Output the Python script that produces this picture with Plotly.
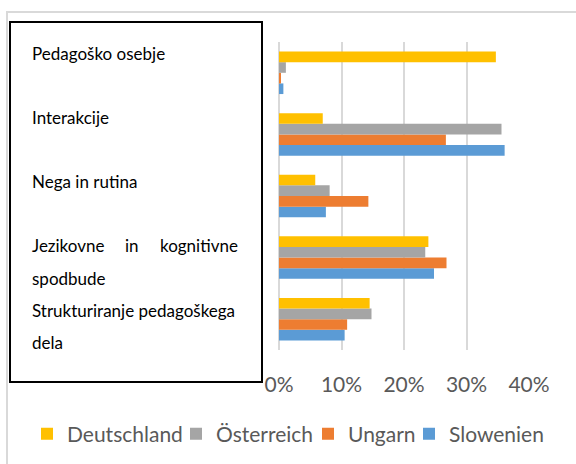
import plotly.graph_objects as go

categories = ["Strukturiranje pedagoškega dela", "Jezikovne in kognitivne spodbude",
              "Nega in rutina", "Interakcije", "Pedagoško osebje"]
series_names = ["Deutschland", "Österreich", "Ungarn", "Slowenien"]
deutschland = [0.145, 0.239, 0.058, 0.070, 0.347]
oesterreich = [0.148, 0.234, 0.081, 0.356, 0.011]
ungarn = [0.109, 0.268, 0.143, 0.267, 0.003]
slowenien = [0.105, 0.248, 0.075, 0.361, 0.007]
tick_vals = [0, 0.1, 0.2, 0.3, 0.4]
tick_text = ["0%", "10%", "20%", "30%", "40%"]

colors = {"Deutschland": "#FFC000", "Österreich": "#A5A5A5",
          "Ungarn": "#ED7D31", "Slowenien": "#5B9BD5"}
values = {"Deutschland": deutschland, "Österreich": oesterreich,
          "Ungarn": ungarn, "Slowenien": slowenien}
# pixel x where each legend entry's text starts
legend_text_x = {"Deutschland": 67, "Österreich": 216, "Ungarn": 348, "Slowenien": 449}
legend_ids = {"Deutschland": "legend", "Österreich": "legend2",
              "Ungarn": "legend3", "Slowenien": "legend4"}

W, H = 576, 464
L, R, T, B = 279, 529, 42, 350  # plot area in pixels


def px_x(x):
    return x / W


def px_y(y):
    return 1 - y / H


font_main = "Lato, 'Noto Sans', sans-serif"

fig = go.Figure()
for name in reversed(series_names):
    fig.add_trace(go.Bar(y=categories, x=values[name], name=name, orientation="h",
                         legend=legend_ids[name],
                         marker=dict(color=colors[name], line=dict(width=0))))

annotations = []
label_lines = [
    ("Pedagoško osebje", 30, 53, "left"),
    ("Interakcije", 30, 117, "left"),
    ("Nega in rutina", 30, 182, "left"),
    ("Jezikovne", 30, 245, "left"),
    ("in", 132, 245, "center"),
    ("kognitivne", 240, 245, "right"),
    ("spodbude", 30, 278, "left"),
    ("Strukturiranje pedagoškega", 30, 310, "left"),
    ("dela", 30, 342, "left"),
]
for txt, x, y, anchor in label_lines:
    annotations.append(dict(text=txt, x=px_x(x), y=px_y(y), xref="paper", yref="paper",
                            xanchor=anchor, yanchor="middle", showarrow=False,
                            font=dict(family=font_main, size=17, color="#000000")))

shapes = [
    dict(type="rect", xref="paper", yref="paper", x0=px_x(7), x1=px_x(620),
         y0=px_y(12), y1=px_y(500), line=dict(color="#D9D9D9", width=2), layer="below"),
    dict(type="rect", xref="paper", yref="paper", x0=px_x(10), x1=px_x(262),
         y0=px_y(22), y1=px_y(382), line=dict(color="#000000", width=2),
         fillcolor="white", layer="above"),
]

legend_layouts = {}
for name in series_names:
    legend_layouts[legend_ids[name]] = dict(
        orientation="h", x=px_x(legend_text_x[name] - 40), y=px_y(434),
        xanchor="left", yanchor="middle",
        font=dict(family=font_main, size=21, color="#595959"),
        itemwidth=30, bgcolor="rgba(0,0,0,0)", borderwidth=0)

fig.update_layout(
    width=W, height=H,
    margin=dict(l=0, r=0, t=0, b=0, pad=0),
    paper_bgcolor="white", plot_bgcolor="white",
    barmode="group", bargap=0.31, bargroupgap=0,
    showlegend=True,
    xaxis=dict(domain=[L / W, R / W], range=[0, 0.4], tickvals=tick_vals, ticktext=tick_text,
               showgrid=True, gridcolor="#D9D9D9", gridwidth=1.5, zeroline=True,
               zerolinecolor="#D9D9D9", zerolinewidth=1.5, showline=False, ticks="",
               ticklabelstandoff=20, automargin=False,
               tickfont=dict(family=font_main, size=21, color="#595959"), fixedrange=True),
    yaxis=dict(domain=[1 - B / H, 1 - T / H], showticklabels=False, showgrid=False,
               zeroline=False, showline=False, ticks="", automargin=False,
               categoryorder="array", categoryarray=categories, fixedrange=True),
    annotations=annotations,
    shapes=shapes,
    **legend_layouts,
)

fig.write_html("out.html", config={"displayModeBar": False},
               post_script="document.body.style.margin='0';document.body.style.padding='0';")
